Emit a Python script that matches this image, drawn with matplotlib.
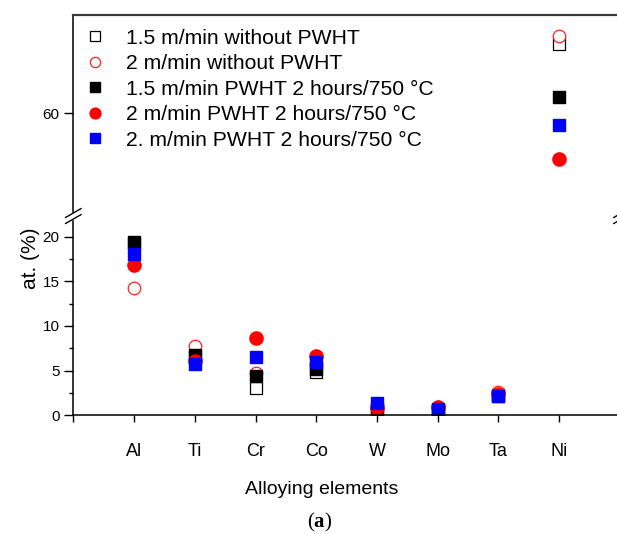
import numpy as np
import matplotlib
matplotlib.use("Agg")
import matplotlib.pyplot as plt
from matplotlib.ticker import FixedLocator, NullFormatter
from matplotlib.lines import Line2D

plt.rcParams["font.family"] = ["Liberation Sans", "DejaVu Sans"]
plt.rcParams["mathtext.fontset"] = "custom"
plt.rcParams["mathtext.bf"] = "Liberation Serif:bold"
plt.rcParams["mathtext.rm"] = "Liberation Serif"

# element order along the x axis
elements = ["Al", "Ti", "Cr", "Co", "W", "Mo", "Ta", "Ni"]

# at. %
v15_no_pwht = [19.3, 6.6, 3.1, 4.9, 0.7, 0.6, 2.3, 67.8]
v2_no_pwht = [14.2, 7.7, 4.7, 5.7, 0.9, 0.9, 2.6, 68.6]
v15_pwht = [19.4, 6.75, 4.4, 5.2, 0.7, 0.6, 2.2, 61.8]
v2_pwht = [16.8, 6.1, 8.6, 6.65, 0.85, 0.97, 2.4, 54.85]
v2b_pwht = [18.1, 5.75, 6.55, 5.97, 1.35, 0.7, 2.2, 58.7]

# broken y axis: everything between these two values is cut out
break_lo = 22.3
break_hi = 48.5
gap = break_hi - break_lo


def fwd(y):
    y = np.asarray(y, dtype=float)
    return np.where(y <= break_lo, y, np.where(y >= break_hi, y - gap, break_lo))


def inv(t):
    t = np.asarray(t, dtype=float)
    return np.where(t <= break_lo, t, t + gap)


fig = plt.figure(figsize=(6.17, 5.34), dpi=100)
W, H = 617.0, 534.0
ax = fig.add_axes([73.3 / W, 1 - 415.3 / H, (621.5 - 73.3) / W, (415.3 - 15) / H])
ax.set_yscale("function", functions=(fwd, inv))

x = np.arange(1, len(elements) + 1)
ax.plot(x, v15_no_pwht, ls="", marker="s", ms=8.0, mfc="white", mec="black", mew=0.9,
        label="1.5 m/min without PWHT")
ax.plot(x, v2_no_pwht, ls="", marker="o", ms=9.0, mfc="white", mec="#ff2020", mew=0.9,
        label="2 m/min without PWHT")
ax.plot(x, v15_pwht, ls="", marker="s", ms=8.5, color="black",
        label="1.5 m/min PWHT 2 hours/750 °C")
ax.plot(x, v2_pwht, ls="", marker="o", ms=9.5, color="#ff0000",
        label="2 m/min PWHT 2 hours/750 °C")
ax.plot(x, v2b_pwht, ls="", marker="s", ms=8.5, color="#0000ff",
        label="2. m/min PWHT 2 hours/750 °C")

ax.set_xlim(0, 9.025)
ax.set_ylim(0, 71.0)

ax.xaxis.set_major_locator(FixedLocator(np.arange(0, len(elements) + 1)))
ax.set_xticklabels([""] + elements)
ax.yaxis.set_major_locator(FixedLocator([0, 5, 10, 15, 20, 60]))
ax.yaxis.set_minor_locator(FixedLocator([2.5, 7.5, 12.5, 17.5]))
ax.yaxis.set_minor_formatter(NullFormatter())
ax.set_yticklabels(["0", "5", "10", "15", "20", "60"])

ax.tick_params(axis="x", direction="out", length=5, width=1.0, pad=15, labelsize=13)
ax.tick_params(axis="y", which="major", direction="out", length=6.5, width=1.0, pad=3.5,
               labelsize=11)
ax.tick_params(axis="y", which="minor", direction="out", length=3.2, width=1.0)

for side in ["left", "bottom"]:
    ax.spines[side].set_linewidth(1.1)
ax.spines["top"].set_linewidth(1.6)
ax.spines["top"].set_color("#3a3a3a")
ax.spines["right"].set_visible(False)

ax.set_xlabel("Alloying elements", fontsize=14)
ax.xaxis.set_label_coords(0.453, -0.165)
ax.set_ylabel("at. (%)", fontsize=15)
ax.yaxis.set_label_coords(-0.06, 0.393)

# break marks on both vertical spines
yb = fwd(break_lo) / fwd(71.0)
for xs in [0.0, 1.0]:
    ax.plot([xs, xs], [yb - 0.006, yb + 0.006], transform=ax.transAxes, color="white",
            lw=2.5, clip_on=False, zorder=5)
    for off in [-0.0075, 0.0075]:
        ax.add_line(Line2D([xs - 0.014, xs + 0.014], [yb + off - 0.011, yb + off + 0.011],
                           transform=ax.transAxes, color="black", lw=1.0, clip_on=False,
                           zorder=6))

ax.legend(loc="upper left", bbox_to_anchor=((85 - 73.3) / 548.2, 1 - (28.5 - 15) / 400.3),
          frameon=False, fontsize=15.2, borderpad=0, borderaxespad=0, handlelength=0.95,
          handletextpad=0.97, labelspacing=0.31, markerscale=0.82)

fig.text(320 / W, 1 - 522 / H, r"($\mathbf{a}$)", fontsize=15, ha="center", va="center",
         family="Liberation Serif")

fig.savefig("out.png", dpi=100)
